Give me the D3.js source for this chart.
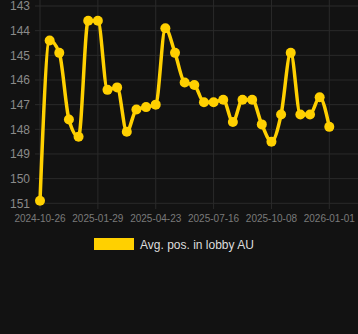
<!DOCTYPE html>
<html><head><meta charset="utf-8">
<script src="https://cdn.jsdelivr.net/npm/d3@7"></script>
<style>html,body{margin:0;padding:0;background:#121212;}svg{display:block;}</style>
</head><body>
<svg id="c" width="358" height="334"></svg>
<script>
const categories = ["2024-10-26","2024-11-12","2024-11-28","2024-12-14","2024-12-30","2025-01-14",
"2025-01-29","2025-02-12","2025-02-26","2025-03-12","2025-03-26","2025-04-09",
"2025-04-23","2025-05-07","2025-05-21","2025-06-04","2025-06-18","2025-07-02",
"2025-07-16","2025-07-30","2025-08-13","2025-08-27","2025-09-10","2025-09-24",
"2025-10-08","2025-10-22","2025-11-05","2025-11-19","2025-12-03","2025-12-17","2026-01-01"];
const values = [150.9,144.4,144.9,147.6,148.3,143.6,143.6,146.4,146.3,148.1,147.2,147.1,147.0,
143.9,144.9,146.1,146.2,146.9,146.9,146.8,147.7,146.8,146.8,147.8,148.5,147.4,144.9,147.4,147.4,146.7,147.9];
const xTickLabels = ["2024-10-26","2025-01-29","2025-04-23","2025-07-16","2025-10-08","2026-01-01"];
const yTicks = [143,144,145,146,147,148,149,150,151];
const seriesName = "Avg. pos. in lobby AU";

const svg = d3.select("#c");
const color = "#FFD000";
const left = 35, right = 358;
const x = d3.scalePoint().domain(categories).range([40, 329.3]);
const y = d3.scaleLinear().domain([143, 151]).range([6, 203.3]);

// grid
const g = svg.append("g");
g.selectAll("line.h").data(yTicks).join("line")
  .attr("x1", left).attr("x2", right)
  .attr("y1", d => y(d)).attr("y2", d => y(d))
  .attr("stroke", "#2a2a2a").attr("stroke-width", 1);
g.selectAll("line.v").data(xTickLabels).join("line")
  .attr("x1", d => x(d)).attr("x2", d => x(d))
  .attr("y1", 0).attr("y2", 209)
  .attr("stroke", "#2a2a2a").attr("stroke-width", 1);

// y labels
svg.append("g").selectAll("text").data(yTicks).join("text")
  .attr("x", 30).attr("y", d => y(d)).attr("dy", "0.35em")
  .attr("text-anchor", "end").attr("fill", "#8a8a8a")
  .attr("font-family", "'Liberation Sans', Arial, sans-serif").attr("font-size", 12)
  .text(d => d);

// x labels
svg.append("g").selectAll("text").data(xTickLabels).join("text")
  .attr("x", d => x(d)).attr("y", 222)
  .attr("text-anchor", "middle").attr("fill", "#7a7a7a")
  .attr("font-family", "'Liberation Sans', Arial, sans-serif").attr("font-size", 10)
  .text(d => d);

// line
const data = categories.map((c, i) => ({c, v: values[i]}));
svg.append("path").datum(data)
  .attr("fill", "none").attr("stroke", color).attr("stroke-width", 3.5)
  .attr("d", d3.line().x(d => x(d.c)).y(d => y(d.v)).curve(d3.curveMonotoneX));
svg.append("g").selectAll("circle").data(data).join("circle")
  .attr("cx", d => x(d.c)).attr("cy", d => y(d.v)).attr("r", 5)
  .attr("fill", color);

// legend
svg.append("rect").attr("x", 94).attr("y", 238).attr("width", 40).attr("height", 12).attr("fill", color);
svg.append("text").attr("x", 140).attr("y", 248.5)
  .attr("fill", "#dddddd").attr("font-family", "'Liberation Sans', Arial, sans-serif").attr("font-size", 12)
  .text(seriesName);
</script>
</body></html>
